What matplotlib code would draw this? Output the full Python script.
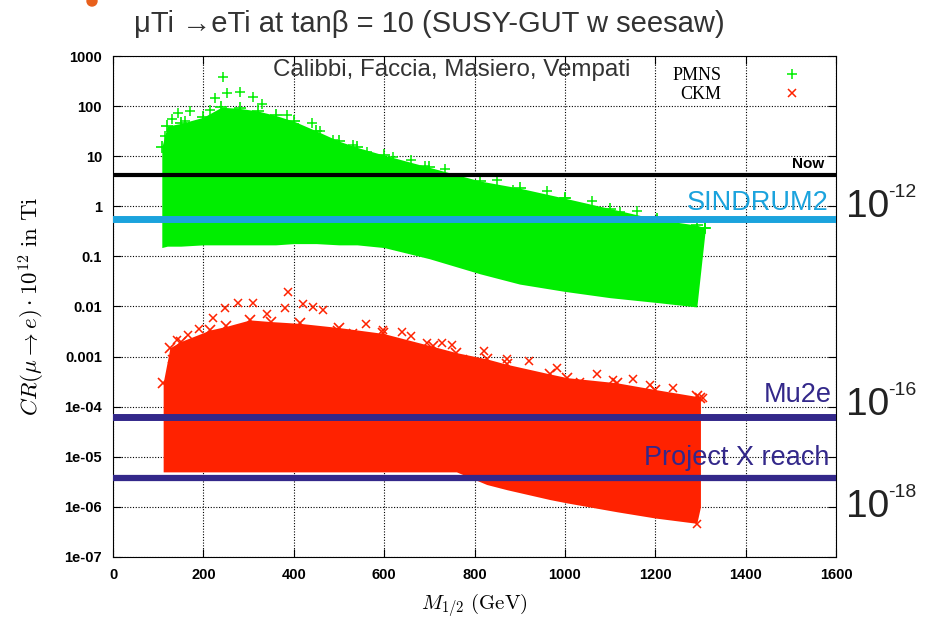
import matplotlib
matplotlib.use("Agg")
import matplotlib.pyplot as plt
from matplotlib.patches import Ellipse

# envelope of the PMNS (green) cloud: M_1/2 [GeV], lower / upper CR x 1e12
pmns_m = [108, 120, 150, 200, 240, 280, 320, 360, 400, 450, 500, 540, 600, 700, 812, 900, 1000, 1100, 1204, 1292, 1310]
pmns_lo = [0.15, 0.16, 0.16, 0.17, 0.17, 0.17, 0.17, 0.17, 0.18, 0.18, 0.17, 0.17, 0.15, 0.09, 0.045, 0.028, 0.02, 0.015, 0.012, 0.0098, 0.3]
pmns_hi = [15, 40, 45, 60, 95, 90, 80, 65, 50, 32, 20, 15, 10.5, 6.0, 3.2, 2.3, 1.45, 0.9, 0.55, 0.42, 0.37]

# scattered PMNS points sticking out of the cloud
pmns_out_m = [243, 226, 252, 281, 310, 144, 170, 215, 385, 409, 458, 487, 531, 562, 620, 690, 768, 885, 1000, 1122, 1204, 1310, 122, 115, 130, 160, 330, 440, 660, 735, 850, 960, 1060, 1160, 1250]
pmns_out_v = [380, 145, 185, 190, 152, 72, 80, 84, 66, 37, 32, 21, 17, 12, 9.7, 6.3, 3.4, 2.1, 1.45, 0.77, 0.53, 0.37, 2.6, 25, 55, 50, 110, 45, 8.5, 5.5, 3.4, 2.0, 1.3, 0.8, 0.5]

# envelope of the CKM (red) cloud
ckm_m = [111, 126, 150, 215, 250, 303, 350, 414, 500, 598, 708, 760, 827, 872, 967, 1005, 1115, 1200, 1292, 1300]
ckm_lo = [5e-6, 5e-6, 5e-6, 5e-6, 5e-6, 5e-6, 5e-6, 5e-6, 5e-6, 5e-6, 5e-6, 5e-6, 2.8e-6, 2.2e-6, 1.4e-6, 1.2e-6, 8e-7, 6e-7, 4.7e-7, 1e-6]
ckm_hi = [3e-4, 1.5e-3, 2e-3, 3.4e-3, 4e-3, 5.4e-3, 5e-3, 4.6e-3, 3.8e-3, 2.9e-3, 1.6e-3, 1.2e-3, 9e-4, 7e-4, 4.5e-4, 3.8e-4, 3e-4, 2.2e-4, 1.6e-4, 1.5e-4]

ckm_out_m = [141, 166, 221, 248, 277, 310, 387, 381, 421, 443, 465, 495, 531, 598, 639, 694, 728, 775, 872, 982, 1033, 1107, 1188, 1306, 1292, 1281,
             560, 660, 750, 820, 920, 1070, 1150, 1240, 130, 190, 340]
ckm_out_v = [2.1e-3, 2.7e-3, 5.9e-3, 9.3e-3, 1.2e-2, 1.16e-2, 1.95e-2, 9.3e-3, 1.1e-2, 9.9e-3, 8.5e-3, 3.4e-3, 2.9e-3, 3.4e-3, 3.1e-3, 1.9e-3, 1.9e-3, 9e-4, 9e-4, 5.8e-4, 3.1e-4, 3.4e-4, 2.7e-4, 1.5e-4, 4.6e-7, 1.4e-6,
             4.5e-3, 2.6e-3, 1.7e-3, 1.3e-3, 8e-4, 4.5e-4, 3.6e-4, 2.4e-4, 9e-4, 3.5e-3, 7e-3]

# experimental limits (CR x 1e12)
limit_now = 4.3
limit_sindrum = 0.57
limit_mu2e = 6.3e-5
limit_projx = 3.8e-6

yticks = [1e-7, 1e-6, 1e-5, 1e-4, 1e-3, 1e-2, 1e-1, 1, 10, 100, 1000]
ytick_labels = ["1e-07", "1e-06", "1e-05", "1e-04", "0.001", "0.01", "0.1", "1", "10", "100", "1000"]
xticks = [0, 200, 400, 600, 800, 1000, 1200, 1400, 1600]

GREEN = "#00ee00"
RED = "#ff2200"
CYAN = "#1ba3dd"
NAVY = "#33288a"

W, H = 934, 620


def px(x, y):
    return x / W, 1 - y / H


fig = plt.figure(figsize=(W / 100, H / 100), dpi=100)
ax = fig.add_axes([113 / W, 1 - 557 / H, 723 / W, 501 / H])
ax.set_yscale("log")
ax.set_xlim(0, 1600)
ax.set_ylim(1e-7, 1e3)

ax.fill_between(pmns_m, pmns_lo, pmns_hi, color=GREEN, lw=0, zorder=2)
ax.fill_between(ckm_m, ckm_lo, ckm_hi, color=RED, lw=0, zorder=2)
ax.plot(pmns_m, pmns_hi, ls="none", marker="+", ms=8, mew=1.2, color=GREEN, zorder=2)
ax.plot(ckm_m, ckm_hi, ls="none", marker="x", ms=7, mew=1.2, color=RED, zorder=2)
ax.plot(pmns_out_m, pmns_out_v, ls="none", marker="+", ms=7, mew=1.1, color=GREEN, zorder=2, label="PMNS")
ax.plot(ckm_out_m, ckm_out_v, ls="none", marker="x", ms=6, mew=1.1, color=RED, zorder=2, label="CKM")

ax.axhline(limit_now, color="black", lw=3, zorder=3)
ax.axhline(limit_sindrum, color=CYAN, lw=5, zorder=3)
ax.axhline(limit_mu2e, color=NAVY, lw=5, zorder=3)
ax.axhline(limit_projx, color=NAVY, lw=4.5, zorder=3)

ax.set_xticks(xticks)
ax.set_yticks(yticks, ytick_labels)
ax.minorticks_off()
ax.tick_params(direction="in", length=6, top=True, right=True, pad=8)
for lab in ax.get_xticklabels() + ax.get_yticklabels():
    lab.set_fontfamily("Liberation Sans")
    lab.set_fontweight("bold")
    lab.set_fontsize(10.5)
ax.grid(True, color="black", lw=0.8, ls=(0, (1, 1.5)), zorder=1)
ax.set_axisbelow(True)

ax.set_xlabel(r"$M_{1/2}\ \mathrm{(GeV)}$", fontsize=15, math_fontfamily="cm", labelpad=7)
ax.set_ylabel(r"$CR(\mu \rightarrow e) \cdot 10^{12}\ \mathrm{in\ Ti}$", fontsize=16.5, math_fontfamily="cm", labelpad=12)

ax.legend(loc="upper right", bbox_to_anchor=(0.9516, 0.978), markerfirst=False, frameon=False,
          prop={"family": "Liberation Serif", "size": 13}, handlelength=1, handletextpad=3.4,
          labelspacing=0.1, borderpad=0, borderaxespad=0)

sans = "Liberation Sans"
fig.text(*px(134, 24), "\u03bcTi \u2192eTi at tan\u03b2 = 10 (SUSY-GUT w seesaw)",
         ha="left", va="center", fontsize=21, color="#333333", family=sans)
fig.text(*px(273, 76), "Calibbi, Faccia, Masiero, Vempati", ha="left", va="baseline",
         fontsize=17.4, color="#333333", family=sans)

fig.text(*px(824, 168), "Now", ha="right", va="baseline", fontsize=11, fontweight="bold", family=sans)
fig.text(*px(828, 210), "SINDRUM2", ha="right", va="baseline", fontsize=19.5, color=CYAN, family=sans)
fig.text(*px(832, 402), "Mu2e", ha="right", va="baseline", fontsize=19.5, color=NAVY, family=sans)
fig.text(*px(829, 465), "Project X reach", ha="right", va="baseline", fontsize=19.5, color=NAVY, family=sans)

for base, sup in [(217, "-12"), (415, "-16"), (517, "-18")]:
    fig.text(*px(846, base), "10", ha="left", va="baseline", fontsize=28, color="#222222", family=sans)
    fig.text(*px(888, base - 33), sup, ha="left", va="top", fontsize=14, color="#222222", family=sans)

fig.patches.append(Ellipse(px(92, 1), 10 / W, 10 / H, transform=fig.transFigure, color="#e8601c"))

fig.savefig("out.png", dpi=100)
